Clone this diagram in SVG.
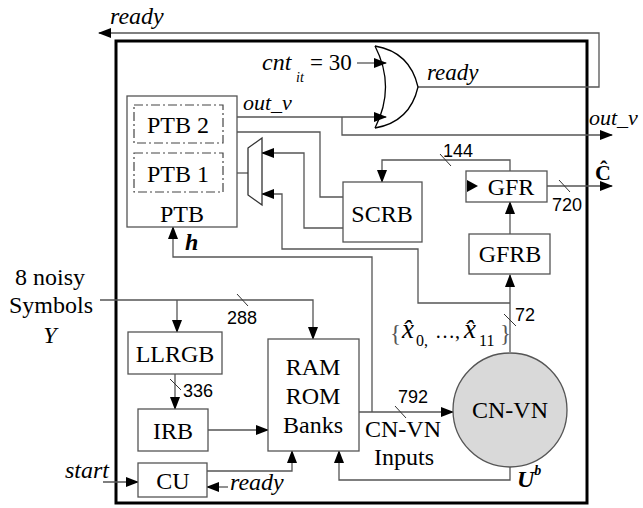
<svg xmlns="http://www.w3.org/2000/svg" width="643" height="508" viewBox="0 0 643 508">
<defs>
<marker id="arr" markerUnits="userSpaceOnUse" markerWidth="13" markerHeight="10" refX="12" refY="5" orient="auto">
<path d="M0,0 L13,5 L0,10 z" fill="#000"/>
</marker>
</defs>
<style>
.box{fill:#fff;stroke:#555;stroke-width:1.3}
.dash{fill:none;stroke:#444;stroke-width:1.2;stroke-dasharray:9,3,2,3}
.ln{fill:none;stroke:#555;stroke-width:1.3}
.ar{fill:none;stroke:#555;stroke-width:1.3;marker-end:url(#arr)}
.tk{stroke:#333;stroke-width:1}
.t{font-family:"Liberation Serif",serif;font-size:24px;fill:#000}
.c{text-anchor:middle}
.i{font-style:italic}
.n{font-family:"Liberation Sans",sans-serif;font-size:18px;fill:#000}
</style>
<rect x="116" y="41" width="471" height="462" fill="none" stroke="#000" stroke-width="3"/>
<g id="connectors">
<polyline class="ar" points="418,87 599,87 599,33 99,33"/>
<line class="ar" x1="357" y1="63" x2="386" y2="63"/>
<line class="ar" x1="237" y1="117" x2="386" y2="117"/>
<polyline class="ar" points="342,117 342,135 612,135"/>
<polyline class="ar" points="343,197 320,197 320,132 224,132"/>
<polyline class="ar" points="343,228 304,228 304,153 262,153"/>
<line class="ar" x1="248" y1="173" x2="224" y2="173"/>
<line class="ar" x1="510" y1="352" x2="510" y2="275"/>
<polyline class="ar" points="510,303 418,303 418,249 282,249 282,194 262,194"/>
<line class="ar" x1="510" y1="234" x2="510" y2="202"/>
<polyline class="ar" points="510,171 510,160 382,160 382,182"/>
<line class="ar" x1="547" y1="186" x2="612" y2="186"/>
<polyline class="ar" points="372,412 372,257 173,257 173,227"/>
<line class="ar" x1="359" y1="412" x2="453" y2="412"/>
<polyline class="ar" points="510,467 510,480 339,480 339,451"/>
<polyline class="ar" points="100,300 313,300 313,339"/>
<line class="ar" x1="177" y1="300" x2="177" y2="332"/>
<line class="ar" x1="175" y1="374" x2="175" y2="409"/>
<line class="ar" x1="208" y1="430" x2="268" y2="430"/>
<polyline class="ar" points="207,471 292,471 292,451"/>
<line class="ar" x1="228" y1="487" x2="207" y2="487"/>
<line class="ar" x1="103" y1="482" x2="138" y2="482"/>
<line class="tk" x1="440" y1="154" x2="451" y2="166"/>
<line class="tk" x1="559" y1="180" x2="570" y2="192"/>
<line class="tk" x1="237" y1="294" x2="248" y2="306"/>
<line class="tk" x1="504" y1="314" x2="516" y2="326"/>
<line class="tk" x1="170" y1="379" x2="181" y2="390"/>
<line class="tk" x1="395" y1="406" x2="406" y2="418"/>
</g>
<g id="or-gate">
<path d="M375,46 Q396,87 375,128" fill="none" stroke="#000" stroke-width="1.3"/>
<path d="M375,46 Q410,52 418,87 Q410,122 375,128" fill="none" stroke="#000" stroke-width="1.3"/>
</g>
<g id="PTB">
<rect class="box" x="127" y="96" width="110" height="131"/>
<rect class="dash" x="134" y="105" width="89" height="38"/>
<rect class="dash" x="134" y="153" width="89" height="39"/>
<text class="t c" x="178" y="133">PTB 2</text>
<text class="t c" x="178" y="182">PTB 1</text>
<text class="t c" x="182" y="222">PTB</text>
</g>
<g id="mux"><polygon points="248,148 262,138 262,205 248,195" fill="#fff" stroke="#333" stroke-width="1.3"/></g>
<g id="SCRB"><rect class="box" x="343" y="182" width="79" height="60"/><text class="t c" x="382" y="222">SCRB</text></g>
<g id="GFR"><rect class="box" x="466" y="171" width="81" height="31"/><polygon points="467,180 478,186 467,192" fill="#000"/><text class="t c" x="511" y="195">GFR</text></g>
<g id="GFRB"><rect class="box" x="469" y="234" width="81" height="40"/><text class="t c" x="510" y="262">GFRB</text></g>
<g id="LLRGB"><rect class="box" x="128" y="332" width="94" height="42"/><text class="t c" x="175" y="362">LLRGB</text></g>
<g id="IRB"><rect class="box" x="138" y="409" width="70" height="42"/><text class="t c" x="173" y="439">IRB</text></g>
<g id="CU"><rect class="box" x="138" y="463" width="69" height="34"/><text class="t c" x="173" y="489">CU</text></g>
<g id="RAM"><rect class="box" x="268" y="339" width="91" height="112"/>
<text class="t c" x="313" y="375">RAM</text><text class="t c" x="313" y="404">ROM</text><text class="t c" x="313" y="433">Banks</text></g>
<g id="CNVN"><circle cx="510" cy="410" r="57" fill="#d9d9d9" stroke="#555" stroke-width="1.3"/><text class="t c" x="510" y="418">CN-VN</text></g>
<g id="labels">
<text class="t i" x="110" y="24">ready</text>
<text class="t i" x="262" y="70">cnt<tspan x="296" style="font-size:14px" dy="12">it</tspan><tspan x="310" dy="-12" style="font-style:normal;font-size:23px">= 30</tspan></text>
<text class="t i" x="427" y="80" style="font-size:23px">ready</text>
<text class="t i" x="243" y="110" style="font-size:22px">out_v</text>
<text class="t i" x="589" y="125" style="font-size:22px">out_v</text>
<text class="t c" x="603" y="180" style="font-weight:bold;font-size:22px">Ĉ</text>
<text class="n" x="443" y="157">144</text>
<text class="n" x="552" y="211">720</text>
<text class="n" x="227" y="324">288</text>
<text class="n" x="515" y="321">72</text>
<text class="n" x="183" y="397">336</text>
<text class="n" x="398" y="403">792</text>
<text class="t c" x="50" y="285">8 noisy</text>
<text class="t c" x="51" y="313">Symbols</text>
<text class="t c i" x="50" y="343">Y</text>
<text class="t i" x="185" y="250" style="font-weight:bold">h</text>
<text class="t i" x="517" y="487" style="font-weight:bold">U<tspan style="font-size:14px" dy="-12">b</tspan></text>
<text class="t i" x="65" y="478">start</text>
<text class="t i" x="230" y="490">ready</text>
<text class="t c" x="403" y="437">CN-VN</text>
<text class="t c" x="404" y="465">Inputs</text>
<text class="t" y="338"><tspan x="390" dy="3" style="fill:#555;font-size:23px">{</tspan><tspan x="402" dy="-3" style="font-style:italic;font-size:27px">x̂</tspan><tspan x="416" dy="8" style="font-size:16px">0,</tspan><tspan x="435" dy="-8" style="font-size:20px">…,</tspan><tspan x="464" style="font-style:italic;font-size:27px">x̂</tspan><tspan x="479" dy="8" style="font-size:16px">11</tspan><tspan x="500" dy="-5" style="fill:#555;font-size:23px">}</tspan></text>
</g>
</svg>
